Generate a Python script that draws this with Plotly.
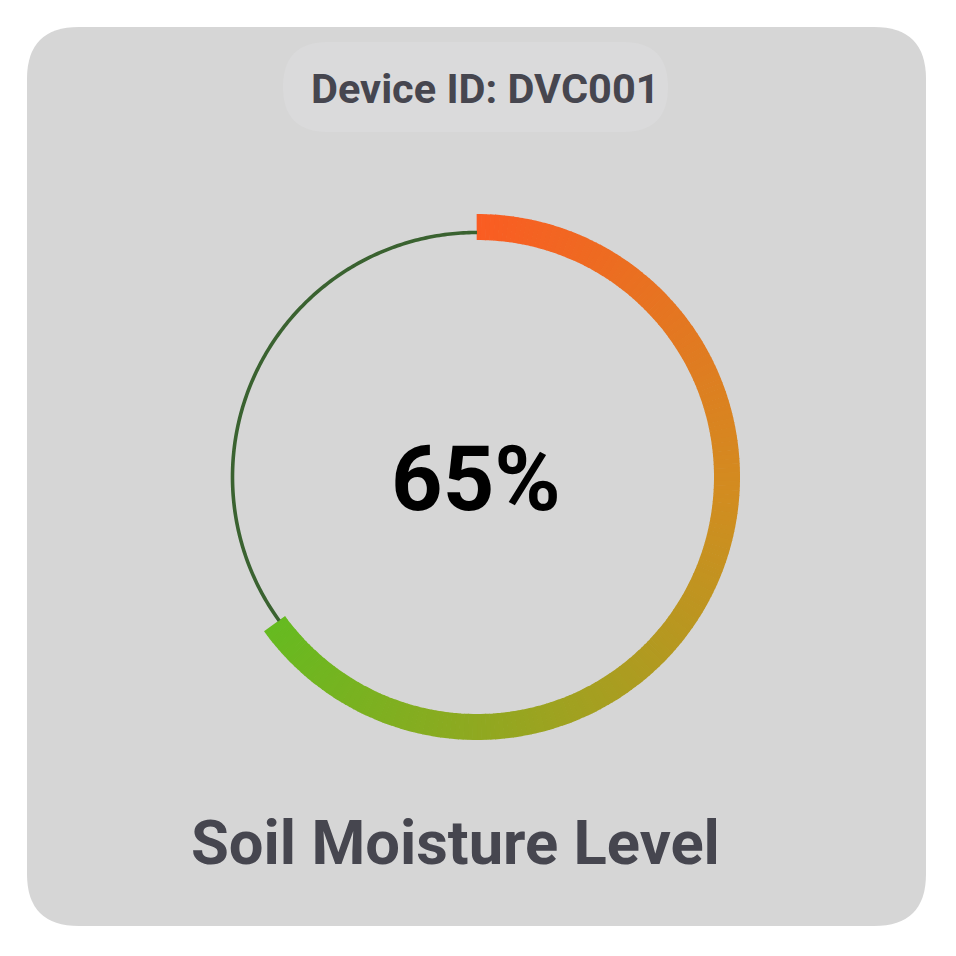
import numpy as np
import plotly.graph_objects as go

# ---- data ----
moisture_value = 65          # percent
device_id = "DVC001"
chart_label = "Soil Moisture Level"
grad_stops = [0.0, 0.4, 1.0]                       # positions along the filled arc
grad_colors = [(250, 92, 34), (210, 140, 32), (102, 186, 32)]

W = H = 940
OFF = 8  # page body margin

def px_to_paper(x, y):
    return (x - OFF) / W, 1 - (y - OFF) / H

def rounded_rect(x0, y0, x1, y1, r):
    def P(x, y):
        a, b = px_to_paper(x, y)
        return f"{a:.5f},{b:.5f}"
    return (
        f"M {P(x0 + r, y0)} L {P(x1 - r, y0)} Q {P(x1, y0)} {P(x1, y0 + r)} "
        f"L {P(x1, y1 - r)} Q {P(x1, y1)} {P(x1 - r, y1)} "
        f"L {P(x0 + r, y1)} Q {P(x0, y1)} {P(x0, y1 - r)} "
        f"L {P(x0, y0 + r)} Q {P(x0, y0)} {P(x0 + r, y0)} Z"
    )

def grad(k):
    for i in range(len(grad_stops) - 1):
        a, b = grad_stops[i], grad_stops[i + 1]
        if k <= b or i == len(grad_stops) - 2:
            f = (k - a) / (b - a)
            c0, c1 = grad_colors[i], grad_colors[i + 1]
            return "rgb({},{},{})".format(*[int(round(c0[j] + (c1[j] - c0[j]) * f)) for j in range(3)])

# arc segments built from the value
span_deg = moisture_value / 100 * 360
n_seg = int(np.ceil(span_deg))
seg_w = span_deg / n_seg
thetas = (np.arange(n_seg) + 0.5) * seg_w
cols = [grad(k) for k in np.linspace(0, 1, n_seg)]

cx, cy, R = 477, 477, 270
dx0, dy0 = px_to_paper(cx - R, cy + R)
dx1, dy1 = px_to_paper(cx + R, cy - R)

fig = go.Figure()
ring_theta = np.linspace(span_deg, 360, 200)
fig.add_trace(go.Scatterpolar(
    r=np.full(ring_theta.size, 244.5), theta=ring_theta, mode="lines",
    line=dict(color="#3a6230", width=3.6), hoverinfo="skip", showlegend=False,
))
fig.add_trace(go.Barpolar(
    r=np.full(n_seg, 26.0), base=np.full(n_seg, 237.0), theta=thetas,
    width=np.full(n_seg, seg_w * 1.15),
    marker=dict(color=cols, line=dict(width=0)),
    hoverinfo="skip", showlegend=False,
))

fig.update_layout(
    width=W, height=H,
    margin=dict(l=0, r=0, t=0, b=0),
    paper_bgcolor="white",
    plot_bgcolor="white",
    polar=dict(
        domain=dict(x=[dx0, dx1], y=[dy0, dy1]),
        bgcolor="rgba(0,0,0,0)",
        radialaxis=dict(range=[0, R], visible=False, showgrid=False),
        angularaxis=dict(rotation=90, direction="clockwise", visible=False, showgrid=False),
        bargap=0,
    ),
    shapes=[
        dict(type="path", xref="paper", yref="paper", path=rounded_rect(27, 27, 926, 926, 52),
             fillcolor="#d6d6d6", line=dict(width=0), layer="below"),
        dict(type="path", xref="paper", yref="paper", path=rounded_rect(283, 42, 668, 132, 45),
             fillcolor="#dadadb", line=dict(width=0), layer="below"),
    ],
    annotations=[
        dict(text=f"<b>Device ID: {device_id}</b>", x=px_to_paper(485, 88)[0], y=px_to_paper(485, 88)[1],
             xref="paper", yref="paper",
             showarrow=False, xanchor="center", yanchor="middle",
             font=dict(family="Roboto", size=41.5, color="#46464f")),
        dict(text=f"<b>{moisture_value}%</b>", x=px_to_paper(476, 480)[0], y=px_to_paper(476, 480)[1],
             xref="paper", yref="paper",
             showarrow=False, xanchor="center", yanchor="middle",
             font=dict(family="Roboto", size=90, color="#000000")),
        dict(text=f"<b>{chart_label}</b>", x=px_to_paper(455, 843)[0], y=px_to_paper(455, 843)[1],
             xref="paper", yref="paper",
             showarrow=False, xanchor="center", yanchor="middle",
             font=dict(family="Roboto", size=61.5, color="#46464f")),
    ],
)

fig.write_html("out.html")
